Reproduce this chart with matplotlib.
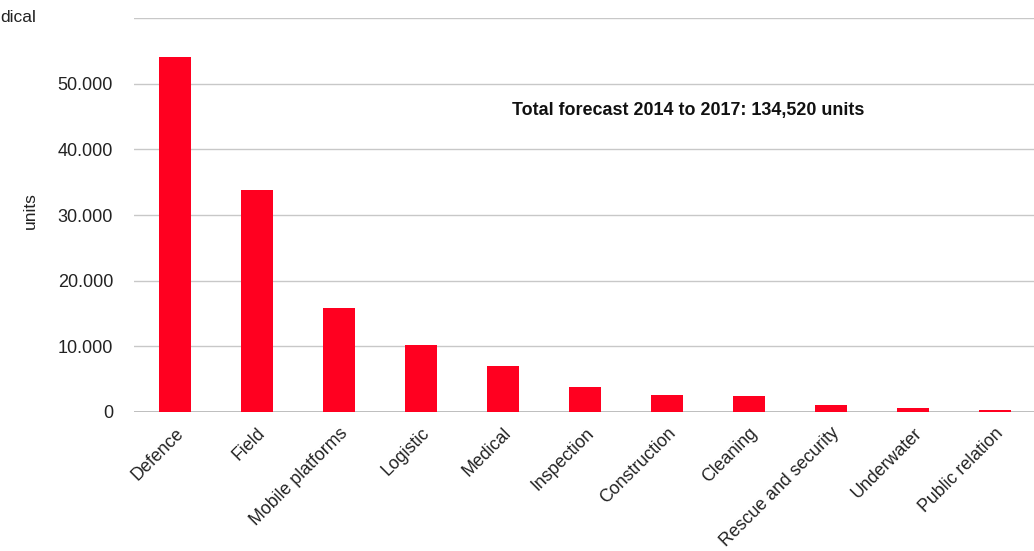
import matplotlib
matplotlib.use("Agg")
import matplotlib.pyplot as plt
from matplotlib.ticker import FuncFormatter

plt.rcParams['font.family'] = ['Liberation Sans', 'DejaVu Sans']

# data
categories = ['Defence', 'Field', 'Mobile platforms', 'Logistic', 'Medical',
              'Inspection', 'Construction', 'Cleaning', 'Rescue and security',
              'Underwater', 'Public relation']
units = [54000, 33800, 15900, 10200, 7000, 3800, 2600, 2400, 1100, 600, 300]
yticks = [0, 10000, 20000, 30000, 40000, 50000, 60000]

W, H = 1034, 551
fig = plt.figure(figsize=(W / 100, H / 100), dpi=100)
ax = fig.add_axes([134 / W, (H - 412) / H, 902 / W, (412 - 18) / H])

ax.bar(range(len(categories)), units, width=0.39, color='#ff0020', zorder=2)

ax.set_xlim(-0.5, len(categories) - 0.5)
ax.set_ylim(0, 60000)
ax.set_yticks(yticks)
ax.yaxis.set_major_formatter(FuncFormatter(
    lambda v, p: '' if v >= 60000 else ('0' if v == 0 else '{:,.0f}'.format(v).replace(',', '.'))))
ax.grid(axis='y', color='#c8c8c8', lw=1, zorder=0)
ax.tick_params(axis='both', length=0, labelsize=13, colors='#222222')
ax.tick_params(axis='y', pad=15)
ax.set_xticks(range(len(categories)))
ax.set_xticklabels(categories, rotation=45, ha='right', rotation_mode='anchor', fontsize=12.8)
ax.tick_params(axis='x', pad=9)
for s in ax.spines.values():
    s.set_visible(False)
ax.axhline(0, color='#b0b0b0', lw=1.2, zorder=1)

ax.set_ylabel('units', fontsize=12.5, color='#222222')
ax.yaxis.set_label_coords(-96 / 902, 0.51)

ax.text(0, 0, 'Total forecast 2014 to 2017: 134,520 units', transform=ax.transAxes,
        fontsize=12.9, fontweight='bold', color='#111111', ha='left', va='center',
        position=((512 - 134) / 902, (412 - 111) / 394))

fig.text(0, (H - 18) / H, 'dical', fontsize=12.5, color='#222222', va='center', ha='left')

fig.savefig('out.png', dpi=100)
